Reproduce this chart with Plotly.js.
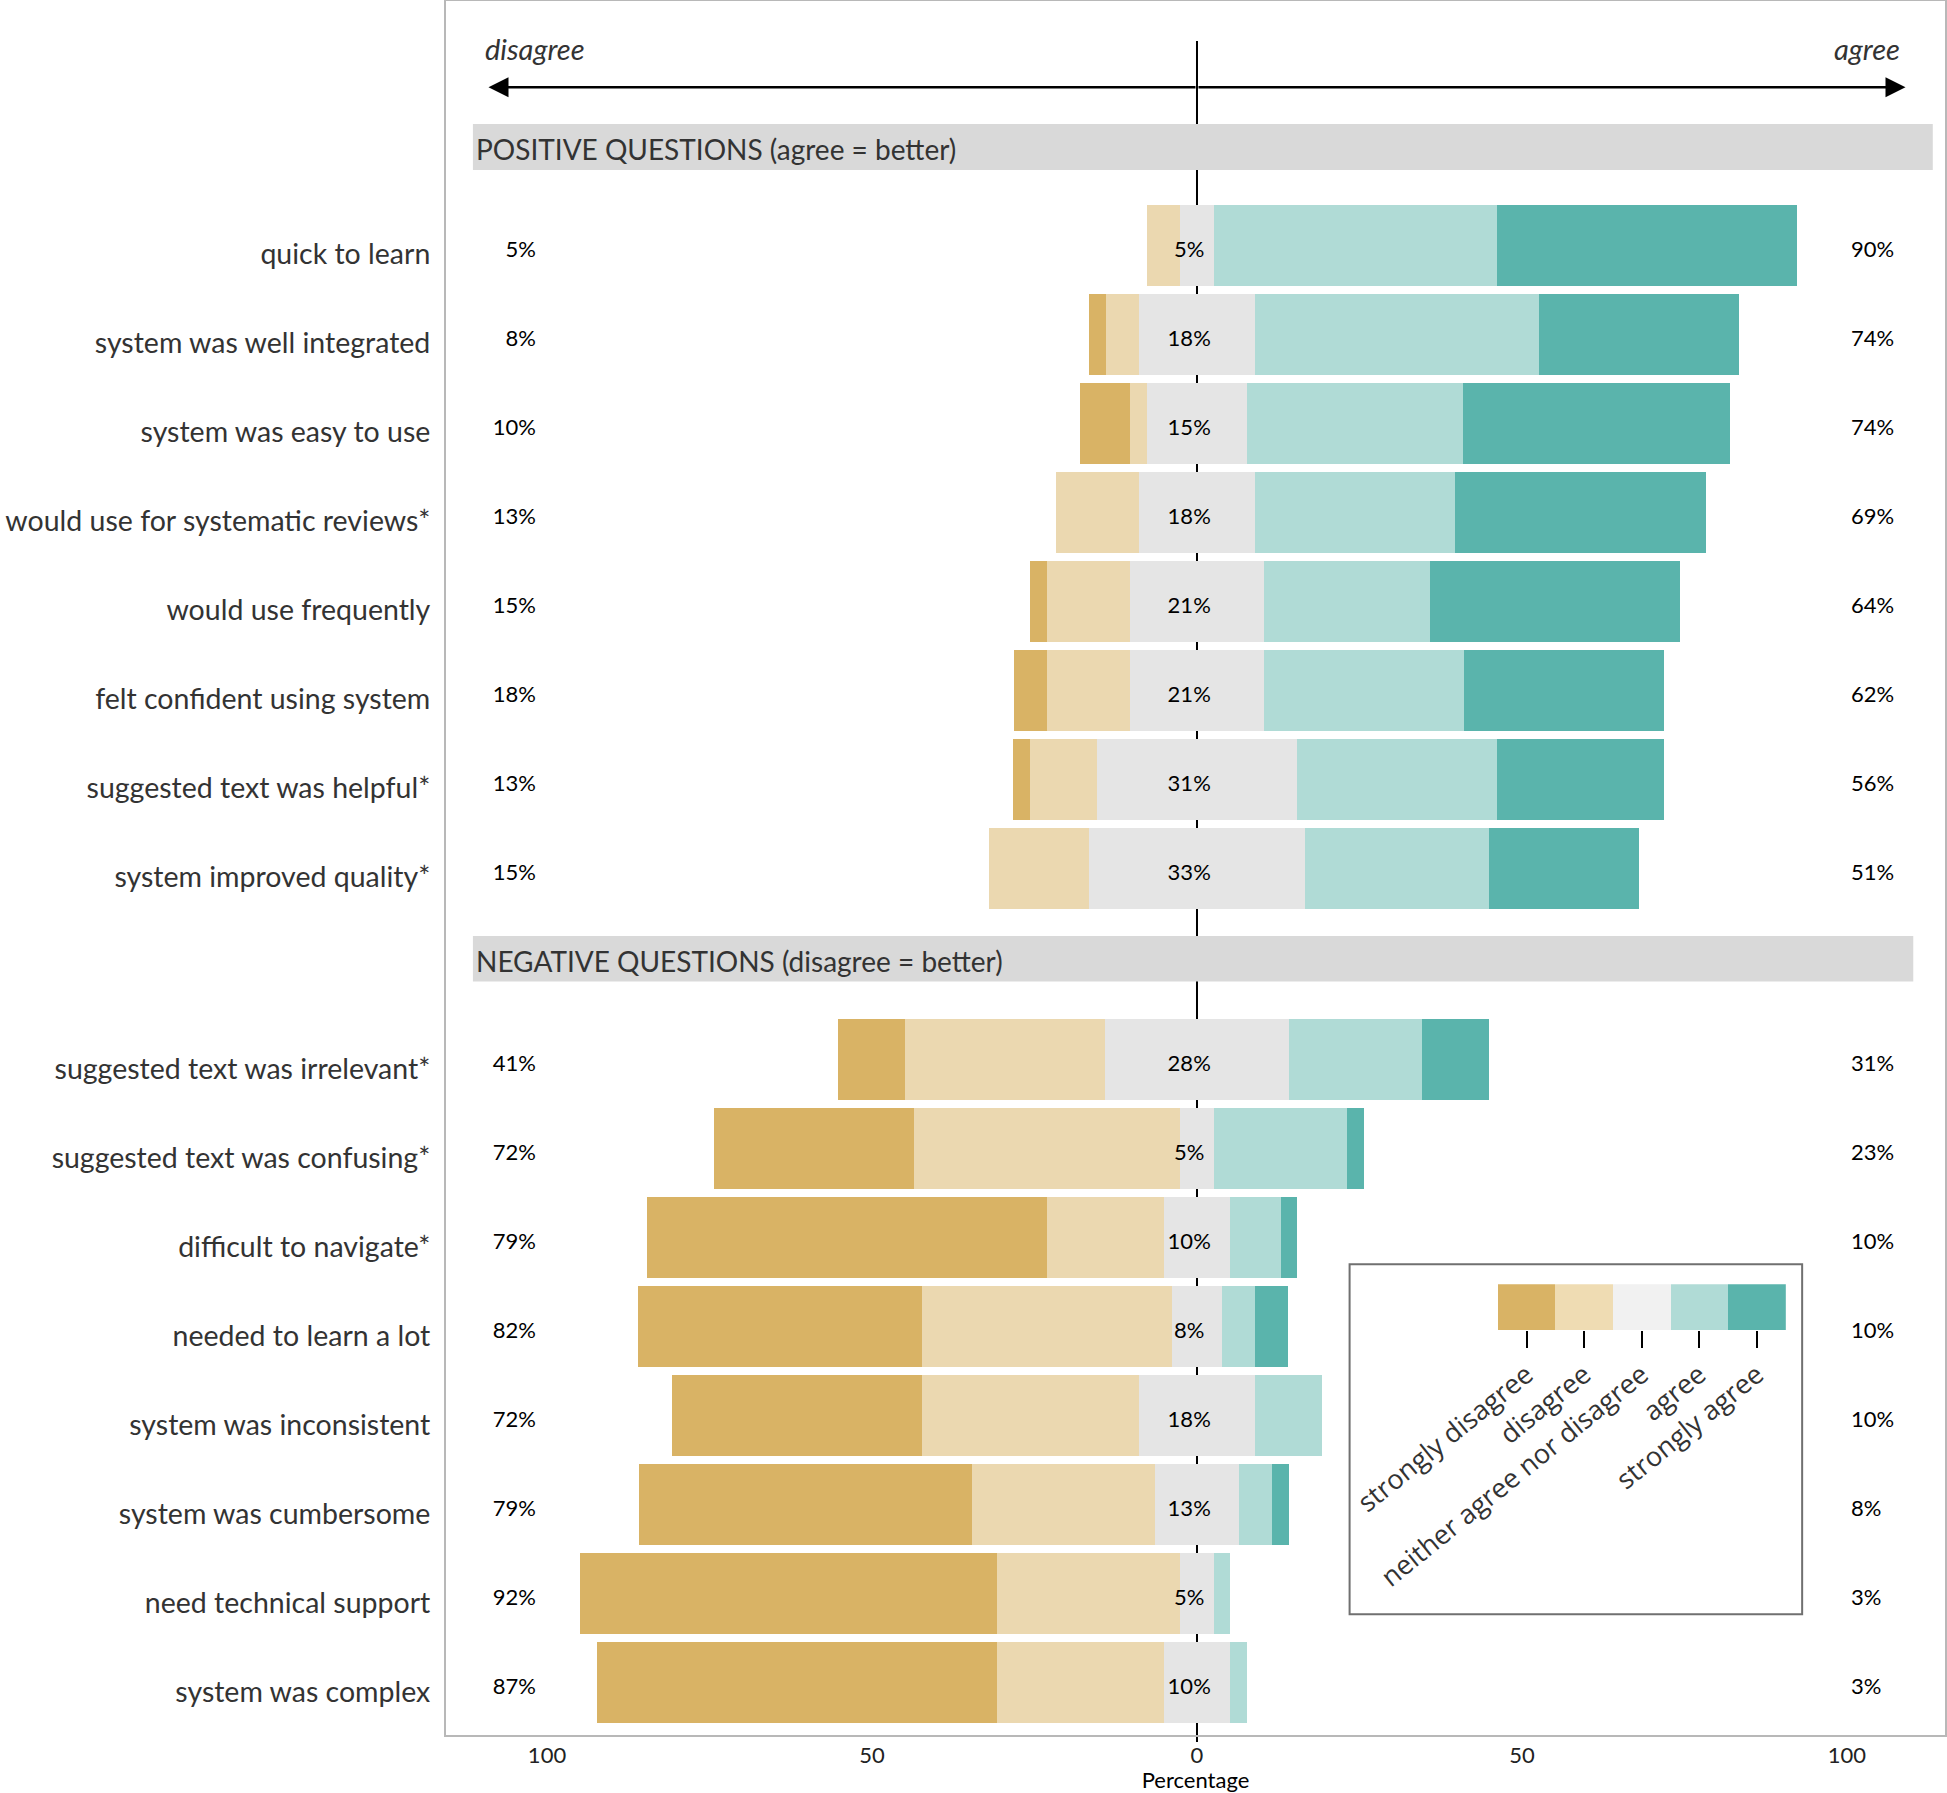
<!DOCTYPE html>
<html>
<head>
<meta charset="utf-8">
<script src="https://cdn.plot.ly/plotly-3.0.1.min.js"></script>
<style>html,body{margin:0;padding:0;background:#fff;}#chart{width:1947px;height:1793px;}</style>
</head>
<body>
<div id="chart"></div>
<script>
// ---------- data (percent of respondents) ----------
const questions = [
  "quick to learn", "system was well integrated", "system was easy to use",
  "would use for systematic reviews*", "would use frequently", "felt confident using system",
  "suggested text was helpful*", "system improved quality*",
  "suggested text was irrelevant*", "suggested text was confusing*", "difficult to navigate*",
  "needed to learn a lot", "system was inconsistent", "system was cumbersome",
  "need technical support", "system was complex"
];
const stronglyDisagree = [0, 2.6, 7.7, 0, 2.6, 5.1, 2.6, 0, 10.3, 30.8, 61.5, 43.6, 38.5, 51.3, 64.1, 61.5];
const disagree         = [5.1, 5.1, 2.6, 12.8, 12.8, 12.8, 10.3, 15.4, 30.8, 41.0, 17.9, 38.5, 33.3, 28.2, 28.2, 25.6];
const neutral          = [5.1, 17.9, 15.4, 17.9, 20.5, 20.5, 30.8, 33.3, 28.2, 5.1, 10.3, 7.7, 17.9, 12.8, 5.1, 10.3];
const agree            = [43.6, 43.6, 33.3, 30.8, 25.6, 30.8, 30.8, 28.2, 20.5, 20.5, 7.7, 5.1, 10.3, 5.1, 2.6, 2.6];
const stronglyAgree    = [46.2, 30.8, 41.0, 38.5, 38.5, 30.8, 25.6, 23.1, 10.3, 2.6, 2.6, 5.1, 0, 2.6, 0, 0];

const leftLabels   = ["5%","8%","10%","13%","15%","18%","13%","15%","41%","72%","79%","82%","72%","79%","92%","87%"];
const centerLabels = ["5%","18%","15%","18%","21%","21%","31%","33%","28%","5%","10%","8%","18%","13%","5%","10%"];
const rightLabels  = ["90%","74%","74%","69%","64%","62%","56%","51%","31%","23%","10%","10%","10%","8%","3%","3%"];

const legendLabels = ["strongly disagree", "disagree", "neither agree nor disagree", "agree", "strongly agree"];
const sectionTitles = ["POSITIVE QUESTIONS (agree = better)", "NEGATIVE QUESTIONS (disagree = better)"];
const directionLabels = ["disagree", "agree"];
const xTickVals = [-100, -50, 0, 50, 100];
const xTickText = ["100", "50", "0", "50", "100"];
const xTitle = "Percentage";

// ---------- styling ----------
const colors = ["#d9b365", "#ebd8b0", "#e5e5e5", "#b0dbd6", "#5ab4ac"];
const legendColors = ["#d9b365", "#efdcb3", "#f1f1f1", "#b0dbd6", "#5ab4ac"];
const labelFont = "Lato, 'Open Sans', sans-serif";
const nPos = 8;
const pos = questions.map((q, i) => i < nPos ? i : i + 1.15);
const xRange = [-115.54, 115.08];
const yRange = [16.738, -2.749];
const toPaperX = v => (v - xRange[0]) / (xRange[1] - xRange[0]);

function barTrace(vals, sign, color, name) {
  return {
    type: 'bar', orientation: 'h', name: name,
    y: pos, x: vals.map(v => sign * v), width: 0.91,
    marker: {color: color, line: {width: 0}},
    hoverinfo: 'skip', showlegend: false
  };
}
function labelTrace(xv, text, tp) {
  return {type: 'scatter', mode: 'text', x: pos.map(() => xv), y: pos.map(p => p + 0.062), text: text,
   textposition: tp, textfont: {family: labelFont, size: 22, color: '#000'},
   cliponaxis: false, hoverinfo: 'skip', showlegend: false};
}

const traces = [
  barTrace(neutral.map(v => v / 2), -1, colors[2], 'neutral-l'),
  barTrace(disagree, -1, colors[1], 'disagree'),
  barTrace(stronglyDisagree, -1, colors[0], 'strongly disagree'),
  barTrace(neutral.map(v => v / 2), 1, colors[2], 'neutral-r'),
  barTrace(agree, 1, colors[3], 'agree'),
  barTrace(stronglyAgree, 1, colors[4], 'strongly agree'),
  labelTrace(-101.7, leftLabels, 'middle left'),
  labelTrace(-1.2, centerLabels, 'middle center'),
  labelTrace(100.6, rightLabels, 'middle right'),
  // legend colour strip
  {type: 'bar', x: legendLabels, y: legendLabels.map(() => 1), width: 1,
   marker: {color: legendColors, line: {width: 0}}, xaxis: 'x2', yaxis: 'y2',
   hoverinfo: 'skip', showlegend: false}
];

const shapes = [
  {type: 'line', xref: 'paper', yref: 'paper', x0: toPaperX(0), x1: toPaperX(0),
   y0: -0.004, y1: 0.977, line: {color: '#000', width: 2}, layer: 'below'},
  {type: 'rect', xref: 'x', yref: 'y', x0: -111.4, x1: 113.2, y0: -1.366, y1: -0.849,
   fillcolor: '#d9d9d9', line: {width: 0}, layer: 'below'},
  {type: 'rect', xref: 'x', yref: 'y', x0: -111.4, x1: 110.2, y0: 7.76, y1: 8.27,
   fillcolor: '#d9d9d9', line: {width: 0}, layer: 'below'},
  {type: 'rect', xref: 'paper', yref: 'paper', x0: 0.6028, x1: 0.9047, y0: 0.0697, y1: 0.2715,
   fillcolor: 'rgba(0,0,0,0)', line: {color: '#707070', width: 2}, layer: 'above'}
];

const annotations = [
  {xref: 'x', yref: 'y', x: -111.2, y: -1.09, text: sectionTitles[0], showarrow: false,
   xanchor: 'left', yanchor: 'middle', font: {family: labelFont, size: 28, color: '#333'}},
  {xref: 'x', yref: 'y', x: -111.2, y: 8.04, text: sectionTitles[1], showarrow: false,
   xanchor: 'left', yanchor: 'middle', font: {family: labelFont, size: 28, color: '#333'}},
  {xref: 'x', yref: 'y', x: -109.8, y: -2.21, text: '<i>' + directionLabels[0] + '</i>', showarrow: false,
   xanchor: 'left', yanchor: 'middle', font: {family: labelFont, size: 29, color: '#333'}},
  {xref: 'x', yref: 'y', x: 108.4, y: -2.21, text: '<i>' + directionLabels[1] + '</i>', showarrow: false,
   xanchor: 'right', yanchor: 'middle', font: {family: labelFont, size: 29, color: '#333'}},
  {xref: 'x', yref: 'y', x: 109.0, y: -1.78, ax: 0, ay: -1.78, axref: 'x', ayref: 'y',
   text: '', showarrow: true, arrowhead: 2, arrowsize: 1.6, arrowwidth: 2.5, arrowcolor: '#000', standoff: 0},
  {xref: 'x', yref: 'y', x: -109.0, y: -1.78, ax: 0, ay: -1.78, axref: 'x', ayref: 'y',
   text: '', showarrow: true, arrowhead: 2, arrowsize: 1.6, arrowwidth: 2.5, arrowcolor: '#000', standoff: 0}
];

const layout = {
  width: 1947, height: 1793,
  margin: {l: 446, r: 2, t: 1, b: 58},
  paper_bgcolor: '#fff', plot_bgcolor: 'rgba(0,0,0,0)',
  barmode: 'relative', bargap: 0,
  showlegend: false,
  font: {family: labelFont, color: '#333'},
  xaxis: {
    range: xRange, tickvals: xTickVals, ticktext: xTickText, ticks: '',
    tickfont: {family: labelFont, size: 22, color: '#222'},
    showgrid: false, zeroline: false,
    showline: true, mirror: true, linecolor: '#b8b8b8', linewidth: 2,
    title: {text: xTitle, font: {family: labelFont, size: 22, color: '#000'}, standoff: 3},
    automargin: false, fixedrange: true
  },
  yaxis: {
    range: yRange, tickvals: pos.map(p => p + 0.1), ticktext: questions, ticks: '',
    tickfont: {family: labelFont, size: 28.5, color: '#333'},
    showgrid: false, zeroline: false,
    showline: true, mirror: true, linecolor: '#b8b8b8', linewidth: 2,
    ticklabelstandoff: 8, automargin: false, fixedrange: true
  },
  xaxis2: {
    domain: [0.7017, 0.8938], anchor: 'y2', type: 'category', range: [-0.5, 4.5],
    ticks: 'outside', ticklen: 17, tickwidth: 2, tickcolor: '#000', tickangle: -39,
    tickfont: {family: "'Open Sans', sans-serif", size: 27, color: '#333'},
    showgrid: false, zeroline: false, showline: false, automargin: false, fixedrange: true
  },
  yaxis2: {
    domain: [0.2334, 0.26], anchor: 'x2', range: [0, 1], visible: false, fixedrange: true
  },
  shapes: shapes,
  annotations: annotations
};

Plotly.newPlot('chart', traces, layout, {displayModeBar: false, staticPlot: true});
</script>
</body>
</html>
